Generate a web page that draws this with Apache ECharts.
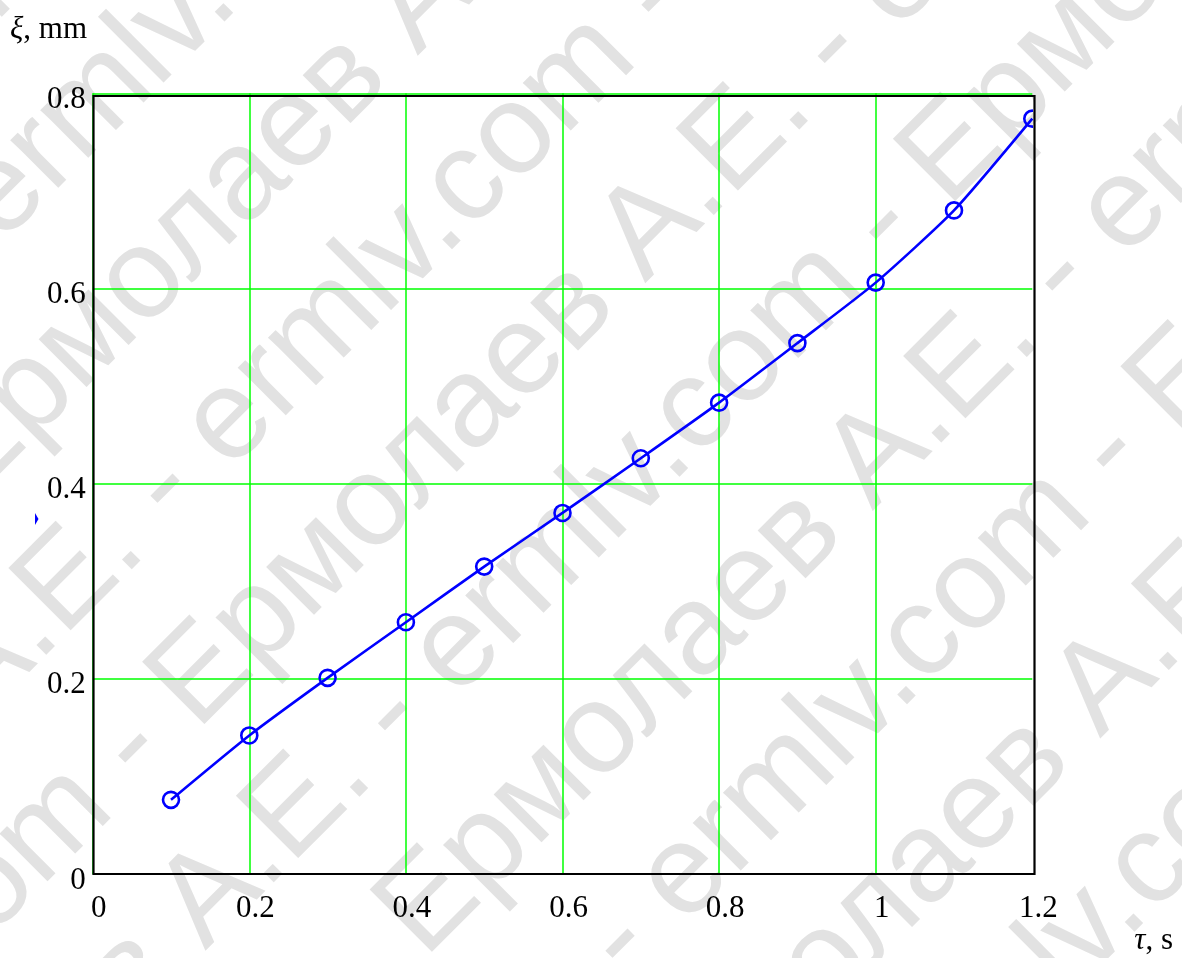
<!DOCTYPE html>
<html>
<head>
<meta charset="utf-8">
<script src="https://cdn.jsdelivr.net/npm/echarts/dist/echarts.min.js"></script>
<style>
html,body{margin:0;padding:0;background:#fff;}
#chart{width:1182px;height:958px;}
</style>
</head>
<body>
<div id="chart"></div>
<script>
// ---- data ----
const tauValues = [0.1, 0.2, 0.3, 0.4, 0.5, 0.6, 0.7, 0.8, 0.9, 1.0, 1.1, 1.2];
const xiValues  = [0.076, 0.142, 0.201, 0.258, 0.315, 0.370, 0.426, 0.483, 0.544, 0.606, 0.680, 0.774];
const xAxisRange = [0, 1.2];
const yAxisRange = [0, 0.8];
const tickStep = 0.2;
const xTitle = ['τ', ', s'];
const yTitle = ['ξ', ', mm'];
const watermarkUnit = 'ermlv.com - Ермолаев А.Е. - ';

// ---- watermark geometry (style) ----
const WM_SIZE = 128;
const WM_FAMILY = '"Liberation Sans", Arial, sans-serif';
const WM_COLOR = '#e2e2e2';
const mctx = document.createElement('canvas').getContext('2d');
mctx.font = WM_SIZE + 'px ' + WM_FAMILY;
const wUnit = mctx.measureText(watermarkUnit).width;
const dotOff = mctx.measureText('ermlv').width + mctx.measureText('.').width / 2;
const veOff = mctx.measureText('ermlv.com - Ермолае').width + mctx.measureText('в').width / 2;
const C = Math.SQRT1_2;
function toScreen(u, v) { return [C * (u + v), C * (v - u)]; }
const wmElements = [];
for (let k = -1; k <= 9; k++) {
  const vBase = 183 + 160.9 * k;
  let start = (k % 2 === 0) ? 159 - dotOff : 186 - veOff;
  while (start > -760) start -= wUnit;
  const reps = Math.ceil((900 - start) / wUnit) + 1;
  const vMid = vBase - 0.3465 * WM_SIZE;
  const p = toScreen(start, vMid);
  wmElements.push({
    type: 'text', x: p[0], y: p[1], rotation: Math.PI / 4, z: -100, silent: true,
    style: {
      text: watermarkUnit.repeat(reps), x: 0, y: 0,
      font: WM_SIZE + 'px ' + WM_FAMILY, fontSize: WM_SIZE, fontFamily: WM_FAMILY,
      fill: WM_COLOR, align: 'left', verticalAlign: 'middle',
      textAlign: 'left', textVerticalAlign: 'middle'
    }
  });
}

const SERIF = '"Liberation Serif", "Times New Roman", serif';
const BLUE = '#0000ff';
const chart = echarts.init(document.getElementById('chart'), null, { renderer: 'canvas' });

const gridGreen = { color: '#00ff00', width: 1.5 };
const pointData = tauValues.map((t, i) => [t, xiValues[i]]);
const option = {
  animation: false,
  backgroundColor: '#ffffff',
  grid: { left: 92.7, right: 149.7, top: 93.3, bottom: 84, containLabel: false, outerBoundsMode: 'none', show: false },
  xAxis: {
    type: 'value', min: xAxisRange[0], max: xAxisRange[1], interval: tickStep,
    axisLine: { show: false }, axisTick: { show: false },
    splitLine: { show: true, showMaxLine: false, lineStyle: gridGreen },
    axisLabel: {
      show: true, color: '#000', fontFamily: SERIF, fontSize: 31, margin: 19,
      padding: [0, 0, 0, 12],
      formatter: v => String(+v.toFixed(1))
    }
  },
  yAxis: {
    type: 'value', min: yAxisRange[0], max: yAxisRange[1], interval: tickStep,
    axisLine: { show: false }, axisTick: { show: false },
    splitLine: { show: true, lineStyle: gridGreen },
    axisLabel: {
      show: true, color: '#000', fontFamily: SERIF, fontSize: 31, margin: 7,
      verticalAlign: 'top', lineHeight: 13,
      formatter: v => String(+v.toFixed(1))
    }
  },
  series: [
    {
      type: 'line',
      data: pointData,
      smooth: 0.2,
      showSymbol: false,
      clip: false,
      lineStyle: { color: BLUE, width: 2.6 },
      emphasis: { disabled: true },
      z: 5
    },
    {
      type: 'custom',
      data: pointData,
      clip: true,
      z: 6,
      silent: true,
      renderItem: function (params, api) {
        const c = api.coord([api.value(0), api.value(1)]);
        return {
          type: 'circle',
          shape: { cx: c[0], cy: c[1], r: 8 },
          style: { fill: null, stroke: BLUE, lineWidth: 2.6 }
        };
      }
    }
  ]
};
chart.setOption(option);

// frame and titles positioned from the axes' own scale
const x0 = chart.convertToPixel({ xAxisIndex: 0 }, xAxisRange[0]);
const x1 = chart.convertToPixel({ xAxisIndex: 0 }, xAxisRange[1]);
const y0 = chart.convertToPixel({ yAxisIndex: 0 }, yAxisRange[0]);
const y1 = chart.convertToPixel({ yAxisIndex: 0 }, yAxisRange[1]);
const frameL = x0 + 0.8, frameR = x1 + 2.2, frameT = y1 + 2.7, frameB = y0;

chart.setOption({
  graphic: wmElements.concat([
    {
      type: 'rect', z: 10, silent: true,
      shape: { x: frameL, y: frameT, width: frameR - frameL, height: frameB - frameT },
      style: { fill: null, stroke: '#000', lineWidth: 2.2 }
    },
    {
      type: 'text', z: 10, x: 10, y: 30, silent: true,
      style: {
        text: '{i|' + yTitle[0] + '}{n|' + yTitle[1] + '}',
        align: 'left', verticalAlign: 'middle',
        rich: {
          i: { fontFamily: SERIF, fontSize: 31, fontStyle: 'italic', fill: '#000' },
          n: { fontFamily: SERIF, fontSize: 31, fill: '#000' }
        }
      }
    },
    {
      type: 'text', z: 10, x: 1173, y: 941, silent: true,
      style: {
        text: '{i|' + xTitle[0] + '}{n|' + xTitle[1] + '}',
        align: 'right', verticalAlign: 'middle',
        rich: {
          i: { fontFamily: SERIF, fontSize: 31, fontStyle: 'italic', fill: '#000' },
          n: { fontFamily: SERIF, fontSize: 31, fill: '#000' }
        }
      }
    },
    {
      type: 'polygon', z: 10, silent: true,
      shape: { points: [[35, 513], [38.5, 519], [35, 525]] },
      style: { fill: BLUE }
    }
  ])
});
</script>
</body>
</html>
